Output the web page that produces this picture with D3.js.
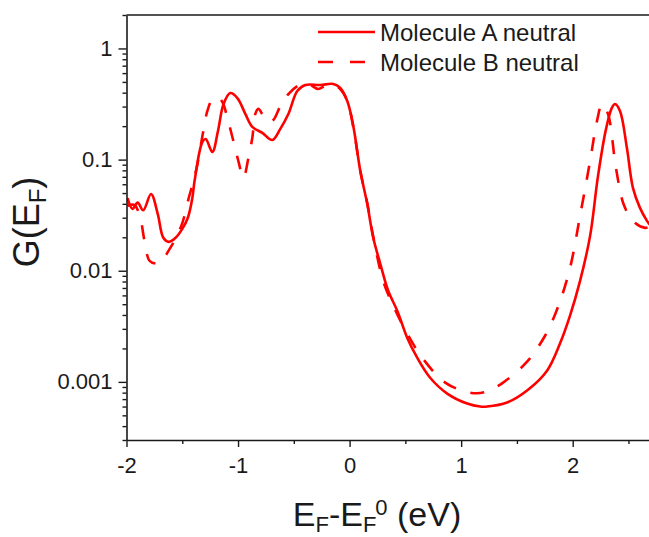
<!DOCTYPE html>
<html>
<head>
<meta charset="utf-8">
<script src="https://cdn.jsdelivr.net/npm/d3@7"></script>
<style>
  html, body { margin: 0; padding: 0; background: #fff; }
  svg { display: block; }
  text { font-family: "Liberation Sans", Arial, sans-serif; fill: #1a1a1a; }
</style>
</head>
<body>
<svg id="chart" width="649" height="537"></svg>
<script>
// Transmission G(E_F) versus Fermi-level shift, two molecules
const energyA = [-1.99,-1.946,-1.90,-1.85,-1.78,-1.72,-1.67,-1.62,-1.56,-1.50,-1.45,-1.41,-1.39,-1.32,-1.29,-1.23,-1.18,-1.13,-1.07,-1.006,-0.934,-0.872,-0.782,-0.693,-0.621,-0.549,-0.469,-0.397,-0.263,-0.146,-0.084,-0.021,0.033,0.096,0.158,0.212,0.275,0.346,0.427,0.516,0.606,0.722,0.875,1.054,1.17,1.233,1.412,1.591,1.77,1.886,1.976,2.066,2.156,2.227,2.299,2.35,2.379,2.424,2.486,2.54,2.603,2.666,2.69];
const condA = [0.045,0.036,0.041,0.035,0.049,0.0325,0.0198,0.0182,0.0198,0.0238,0.030,0.045,0.064,0.144,0.153,0.117,0.181,0.316,0.397,0.358,0.257,0.197,0.174,0.150,0.189,0.257,0.414,0.469,0.469,0.479,0.441,0.337,0.201,0.079,0.040,0.0198,0.01156,0.0066,0.00437,0.0025,0.00165,0.00109,0.000785,0.000638,0.0006,0.0006,0.000652,0.000836,0.00126,0.00221,0.00394,0.0081,0.0206,0.0714,0.189,0.29,0.316,0.274,0.127,0.0557,0.0368,0.0281,0.026];

const energyB = [-1.99,-1.928,-1.875,-1.839,-1.794,-1.74,-1.696,-1.624,-1.561,-1.499,-1.445,-1.40,-1.364,-1.319,-1.275,-1.23,-1.185,-1.14,-1.096,-1.042,-0.997,-0.952,-0.907,-0.872,-0.845,-0.818,-0.773,-0.728,-0.684,-0.621,-0.549,-0.469,-0.397,-0.334,-0.281,-0.218,-0.146,-0.084,-0.021,0.033,0.096,0.158,0.212,0.301,0.391,0.516,0.651,0.857,1.081,1.215,1.376,1.591,1.752,1.869,1.976,2.066,2.156,2.218,2.263,2.316,2.388,2.459,2.549,2.648,2.69];
const condB = [0.0384,0.039,0.0293,0.0186,0.0123,0.0116,0.0118,0.0151,0.0194,0.027,0.044,0.064,0.091,0.164,0.274,0.35,0.366,0.33,0.237,0.147,0.097,0.0686,0.1035,0.157,0.258,0.286,0.247,0.218,0.227,0.303,0.389,0.459,0.489,0.459,0.432,0.459,0.469,0.432,0.337,0.197,0.079,0.0408,0.0203,0.0081,0.00485,0.00272,0.00165,0.000986,0.0008,0.00081,0.000986,0.00152,0.0026,0.00474,0.0106,0.0312,0.0973,0.223,0.316,0.258,0.084,0.039,0.0275,0.0243,0.0248];

const seriesNames = ["Molecule A neutral", "Molecule B neutral"];

const xTicks = [-2, -1, 0, 1, 2];
const xTickLabels = ["-2", "-1", "0", "1", "2"];
const xMinorTicks = [-1.5, -0.5, 0.5, 1.5, 2.5];
const yTicks = [0.001, 0.01, 0.1, 1];
const yTickLabels = ["0.001", "0.01", "0.1", "1"];

const svg = d3.select("#chart");
const plotLeft = 126.5, plotRight = 649, plotTop = 15, plotBottom = 440;

const x = d3.scaleLinear().domain([-2, 2.684]).range([plotLeft, plotRight]);
const y = d3.scaleLog().domain([3e-4, 2]).range([plotBottom, plotTop]);

const axisColor = "#1a1a1a";
const red = "#ff0000";

// clip region for the curves
svg.append("defs").append("clipPath").attr("id", "plotClip")
  .append("rect").attr("x", plotLeft).attr("y", plotTop)
  .attr("width", plotRight - plotLeft).attr("height", plotBottom - plotTop);

// curves
const line = d3.line()
  .x(d => x(d[0])).y(d => y(d[1]))
  .curve(d3.curveCatmullRom.alpha(0.5));

const plot = svg.append("g").attr("clip-path", "url(#plotClip)");
plot.append("path")
  .datum(d3.zip(energyB, condB))
  .attr("d", line)
  .attr("fill", "none").attr("stroke", red)
  .attr("stroke-width", 2.6).attr("stroke-dasharray", "14,15");
plot.append("path")
  .datum(d3.zip(energyA, condA))
  .attr("d", line)
  .attr("fill", "none").attr("stroke", red)
  .attr("stroke-width", 2.6);

function styleAxis(g) {
  g.select(".domain").attr("stroke", axisColor).attr("stroke-width", 1.6);
  g.selectAll(".tick line").attr("stroke", axisColor).attr("stroke-width", 1.4);
  g.selectAll(".tick text").attr("fill", axisColor)
    .style("font-size", "22px").style("font-family", '"Liberation Sans", Arial, sans-serif');
}
function minorOnly(g) {
  g.select(".domain").remove();
  g.selectAll(".tick line").attr("stroke", axisColor).attr("stroke-width", 1.4);
}

// bottom axis
svg.append("g").attr("transform", `translate(0,${plotBottom})`)
  .call(d3.axisBottom(x).tickValues(xMinorTicks).tickSize(4).tickFormat("").tickSizeOuter(0))
  .call(minorOnly);

svg.append("g").attr("transform", `translate(0,${plotBottom})`)
  .call(d3.axisBottom(x).tickValues(xTicks).tickSize(7).tickPadding(10).tickSizeOuter(0)
    .tickFormat((d, i) => xTickLabels[i]))
  .call(styleAxis);

// left axis with minor log ticks
const yMinor = y.ticks(40).filter(v => !yTicks.some(t => Math.abs(t - v) / t < 1e-6));
svg.append("g").attr("transform", `translate(${plotLeft},0)`)
  .call(d3.axisLeft(y).tickValues(yMinor).tickSize(4).tickFormat("").tickSizeOuter(0))
  .call(minorOnly);

svg.append("g").attr("transform", `translate(${plotLeft},0)`)
  .call(d3.axisLeft(y).tickValues(yTicks).tickSize(8).tickPadding(6).tickSizeOuter(0)
    .tickFormat((d, i) => yTickLabels[i]))
  .call(styleAxis);

// top frame line
svg.append("line")
  .attr("x1", plotLeft).attr("x2", plotRight).attr("y1", plotTop).attr("y2", plotTop)
  .attr("stroke", axisColor).attr("stroke-width", 1.6);

// axis titles
const yTitle = svg.append("text")
  .attr("transform", "translate(39,222) rotate(-90)")
  .attr("text-anchor", "middle")
  .style("font-size", "36px");
yTitle.append("tspan").text("G(E");
yTitle.append("tspan").attr("dy", 7).style("font-size", "24px").text("F");
yTitle.append("tspan").attr("dy", -7).text(")");

const xTitle = svg.append("text")
  .attr("x", 377).attr("y", 526)
  .attr("text-anchor", "middle")
  .style("font-size", "34px");
xTitle.append("tspan").text("E");
xTitle.append("tspan").attr("dy", 6).style("font-size", "22px").text("F");
xTitle.append("tspan").attr("dy", -6).text("-E");
xTitle.append("tspan").attr("dy", 6).style("font-size", "22px").text("F");
xTitle.append("tspan").attr("dy", -17).attr("dx", -1).style("font-size", "22px").text("0");
xTitle.append("tspan").attr("dy", 11).text(" (eV)");

// legend
const legend = svg.append("g");
const legendRows = [
  { name: seriesNames[0], dash: null, yPos: 32 },
  { name: seriesNames[1], dash: "15,17", yPos: 62 }
];
legendRows.forEach(r => {
  legend.append("line")
    .attr("x1", 318).attr("x2", r.dash ? 367 : 375)
    .attr("y1", r.yPos).attr("y2", r.yPos)
    .attr("stroke", red).attr("stroke-width", 2.6)
    .attr("stroke-dasharray", r.dash);
  legend.append("text")
    .attr("x", 380).attr("y", r.yPos + 8.5)
    .style("font-size", "24px")
    .text(r.name);
});
</script>
</body>
</html>
